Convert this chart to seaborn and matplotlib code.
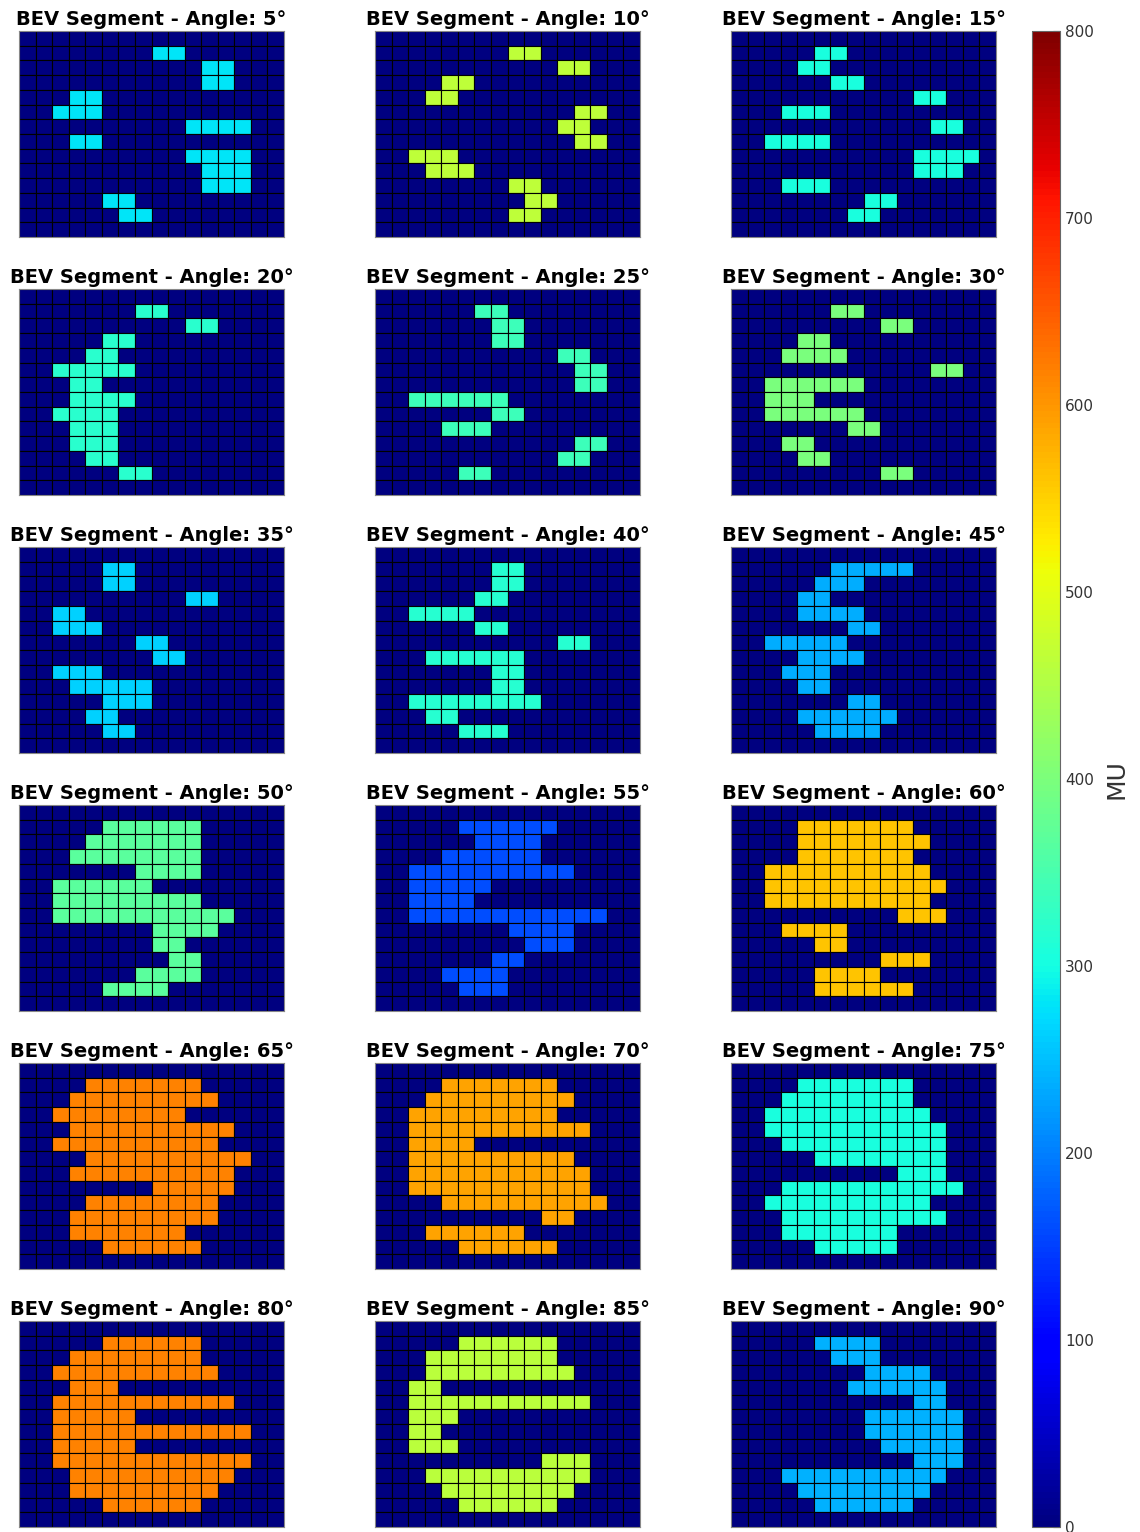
import numpy as np
import pandas as pd
import matplotlib
matplotlib.use("Agg")
import matplotlib.pyplot as plt
import seaborn as sns

# ---------------- data ----------------
N_ROWS, N_COLS = 14, 16
ANGLES = [5, 10, 15, 20, 25, 30, 35, 40, 45, 50, 55, 60, 65, 70, 75, 80, 85, 90]
MU_VALUES = [280, 465, 305, 320, 338, 397, 265, 318, 235, 367, 162, 560,
             618, 588, 305, 618, 462, 240]
# open cells per segment: {row: [(first_col, last_col), ...]}
SEGMENT_RUNS = [
    {1: [(8, 9)], 2: [(11, 12)], 3: [(11, 12)], 4: [(3, 4)], 5: [(2, 4)], 6: [(10, 13)],
     7: [(3, 4)], 8: [(10, 13)], 9: [(11, 13)], 10: [(11, 13)], 11: [(5, 6)], 12: [(6, 7)]},
    {1: [(8, 9)], 2: [(11, 12)], 3: [(4, 5)], 4: [(3, 4)], 5: [(12, 13)], 6: [(11, 12)],
     7: [(12, 13)], 8: [(2, 4)], 9: [(3, 5)], 10: [(8, 9)], 11: [(9, 10)], 12: [(8, 9)]},
    {1: [(5, 6)], 2: [(4, 5)], 3: [(6, 7)], 4: [(11, 12)], 5: [(3, 5)], 6: [(12, 13)],
     7: [(2, 5)], 8: [(11, 14)], 9: [(11, 13)], 10: [(3, 5)], 11: [(8, 9)], 12: [(7, 8)]},
    {1: [(7, 8)], 2: [(10, 11)], 3: [(5, 6)], 4: [(4, 5)], 5: [(2, 6)], 6: [(3, 4)],
     7: [(3, 6)], 8: [(2, 5)], 9: [(3, 5)], 10: [(3, 5)], 11: [(4, 5)], 12: [(6, 7)]},
    {1: [(6, 7)], 2: [(7, 8)], 3: [(7, 8)], 4: [(11, 12)], 5: [(12, 13)], 6: [(12, 13)],
     7: [(2, 7)], 8: [(7, 8)], 9: [(4, 6)], 10: [(12, 13)], 11: [(11, 12)], 12: [(5, 6)]},
    {1: [(6, 7)], 2: [(9, 10)], 3: [(4, 5)], 4: [(3, 6)], 5: [(12, 13)], 6: [(2, 7)],
     7: [(2, 4)], 8: [(2, 7)], 9: [(7, 8)], 10: [(3, 4)], 11: [(4, 5)], 12: [(9, 10)]},
    {1: [(5, 6)], 2: [(5, 6)], 3: [(10, 11)], 4: [(2, 3)], 5: [(2, 4)], 6: [(7, 8)],
     7: [(8, 9)], 8: [(2, 4)], 9: [(3, 7)], 10: [(5, 7)], 11: [(4, 5)], 12: [(5, 6)]},
    {1: [(7, 8)], 2: [(7, 8)], 3: [(6, 7)], 4: [(2, 5)], 5: [(6, 7)], 6: [(11, 12)],
     7: [(3, 8)], 8: [(7, 8)], 9: [(7, 8)], 10: [(2, 9)], 11: [(3, 4)], 12: [(5, 7)]},
    {1: [(6, 10)], 2: [(5, 7)], 3: [(4, 5)], 4: [(4, 7)], 5: [(7, 8)], 6: [(2, 6)],
     7: [(4, 7)], 8: [(3, 5)], 9: [(4, 5)], 10: [(7, 8)], 11: [(4, 9)], 12: [(5, 8)]},
    {1: [(5, 10)], 2: [(4, 10)], 3: [(3, 10)], 4: [(7, 10)], 5: [(2, 7)], 6: [(2, 10)],
     7: [(2, 12)], 8: [(8, 11)], 9: [(8, 9)], 10: [(9, 10)], 11: [(7, 10)], 12: [(5, 8)]},
    {1: [(5, 10)], 2: [(6, 9)], 3: [(4, 9)], 4: [(2, 11)], 5: [(2, 6)], 6: [(2, 5)],
     7: [(2, 13)], 8: [(8, 11)], 9: [(9, 11)], 10: [(7, 8)], 11: [(4, 7)], 12: [(5, 7)]},
    {1: [(4, 10)], 2: [(4, 11)], 3: [(4, 10)], 4: [(2, 11)], 5: [(2, 12)], 6: [(2, 11)],
     7: [(10, 12)], 8: [(3, 6)], 9: [(5, 6)], 10: [(9, 11)], 11: [(5, 8)], 12: [(5, 10)]},
    {1: [(4, 10)], 2: [(3, 11)], 3: [(2, 9)], 4: [(3, 12)], 5: [(2, 11)], 6: [(4, 13)],
     7: [(3, 12)], 8: [(8, 12)], 9: [(4, 11)], 10: [(3, 11)], 11: [(3, 9)], 12: [(5, 10)]},
    {1: [(4, 10)], 2: [(3, 11)], 3: [(2, 10)], 4: [(2, 12)], 5: [(2, 5)], 6: [(2, 11)],
     7: [(2, 12)], 8: [(2, 12)], 9: [(4, 13)], 10: [(10, 11)], 11: [(3, 8)], 12: [(5, 10)]},
    {1: [(4, 10)], 2: [(3, 10)], 3: [(2, 11)], 4: [(2, 12)], 5: [(3, 12)], 6: [(5, 12)],
     7: [(10, 12)], 8: [(3, 13)], 9: [(2, 11)], 10: [(3, 12)], 11: [(3, 9)], 12: [(5, 9)]},
    {1: [(5, 10)], 2: [(3, 10)], 3: [(2, 11)], 4: [(3, 5)], 5: [(2, 12)], 6: [(2, 6)],
     7: [(2, 13)], 8: [(2, 6)], 9: [(2, 13)], 10: [(3, 12)], 11: [(3, 11)], 12: [(5, 10)]},
    {1: [(5, 10)], 2: [(3, 10)], 3: [(3, 11)], 4: [(2, 3)], 5: [(2, 12)], 6: [(2, 4)],
     7: [(2, 3)], 8: [(2, 4)], 9: [(10, 12)], 10: [(3, 12)], 11: [(4, 11)], 12: [(5, 10)]},
    {1: [(5, 8)], 2: [(6, 8)], 3: [(8, 11)], 4: [(7, 12)], 5: [(11, 12)], 6: [(8, 13)],
     7: [(8, 13)], 8: [(9, 13)], 9: [(11, 13)], 10: [(3, 12)], 11: [(4, 11)], 12: [(5, 10)]},
]
CBAR_TICKS = [0, 100, 200, 300, 400, 500, 600, 700, 800]
VMIN, VMAX = 0, 800


def segment_matrix(runs, mu):
    m = np.zeros((N_ROWS, N_COLS))
    for r, spans in runs.items():
        for a, b in spans:
            m[r, a:b + 1] = mu
    return pd.DataFrame(m)


# ---------------- figure ----------------
sns.set_theme(style="white")
plt.rcParams['font.family'] = ['DejaVu Sans']

W, H = 1140, 1532
fig, axes = plt.subplots(6, 3, figsize=(W / 100, H / 100), dpi=100)
fig.subplots_adjust(left=19 / W, right=996 / W, top=1 - 31 / H, bottom=1 - 1527 / H,
                    wspace=91 / 265, hspace=52 / 206)

for ax, ang, mu, runs in zip(axes.flat, ANGLES, MU_VALUES, SEGMENT_RUNS):
    df = segment_matrix(runs, mu)
    sns.heatmap(df, ax=ax, cmap="jet", vmin=VMIN, vmax=VMAX, cbar=False,
                linewidths=0.8, linecolor="black", antialiased=True,
                xticklabels=False, yticklabels=False)
    ax.set_title(f"BEV Segment - Angle: {ang}°", fontsize=14, fontweight="bold",
                 color="black", pad=4)
    for s in ax.spines.values():
        s.set_visible(True)
        s.set_color("#888888")
        s.set_linewidth(0.8)

cax = fig.add_axes([1032 / W, 1 - 1527 / H, 28 / W, 1496 / H])
sm = plt.cm.ScalarMappable(cmap="jet", norm=plt.Normalize(VMIN, VMAX))
cb = fig.colorbar(sm, cax=cax)
cb.set_ticks(CBAR_TICKS)
cb.ax.tick_params(labelsize=11, labelcolor="#333333", direction="in",
                  length=5, width=0.8, color="#222222", right=True)
cb.outline.set_edgecolor("#666666")
cb.outline.set_linewidth(0.8)
cb.set_label("MU", fontsize=18, color="#333333", labelpad=8)

fig.savefig("out.png", dpi=100)
